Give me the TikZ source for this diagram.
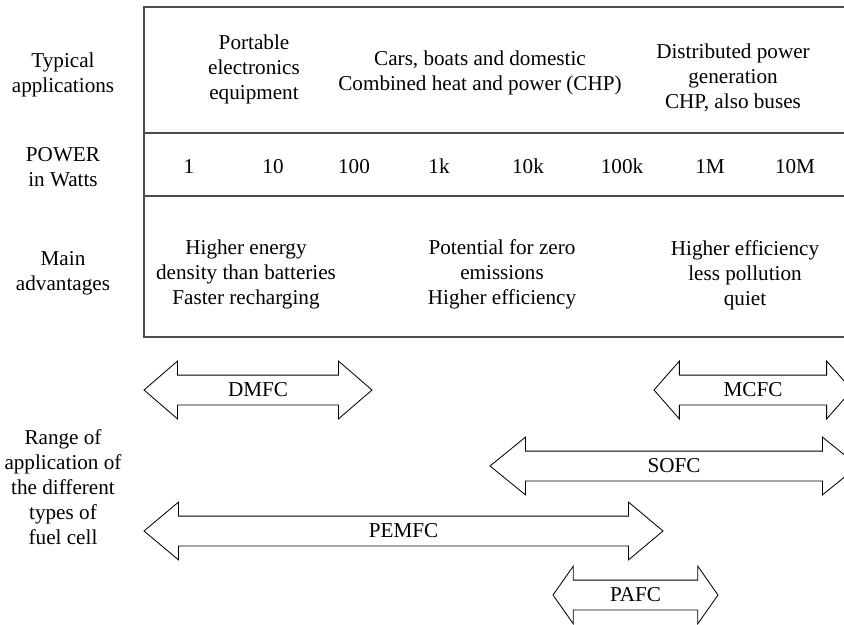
\documentclass[tikz,border=0pt]{standalone}
\usepackage{fontspec}
\setmainfont{Liberation Serif}
\usetikzlibrary{shapes.arrows}
\tikzset{
	txt/.style={align=center,font=\fontsize{12.7}{15}\selectfont,inner sep=0pt},
	rule/.style={gray!60!black,line width=0.8pt},
	fcarrow/.style 2 args={double arrow,draw,line width=0.5pt,inner xsep=0pt,%
		inner ysep=4.6pt,text height=8.2pt,text depth=0pt,%
		font=\fontsize{12.7}{15}\selectfont,minimum width=34.2pt,%
		double arrow head extend=8.4pt,double arrow head indent=0pt,%
		minimum height=#1*0.6pt,double arrow tip angle=#2},
}
\begin{document}
\begin{tikzpicture}[x=0.6pt,y=-0.6pt]
	\useasboundingbox (0,0) rectangle (844,625);
	\draw[rule] (844,7)--(144,7)--(144,337)--(844,337);
	\draw[rule] (144,133)--(844,133) (144,196)--(844,196);
	% row titles
	\node[txt] (tapp) at (63,75) {Typical\\applications};
	\node[txt] (pow) at (63,167.5) {POWER\\in Watts};
	\node[txt] (adv) at (63,273) {Main\\advantages};
	\node[txt] (rng) at (63,487) {Range of\\application of\\the different\\types of\\fuel cell};
	% applications
	\node[txt] (app1) at (254,69.5) {Portable\\electronics\\equipment};
	\node[txt] (app2) at (480,72.5) {Cars, boats and domestic\\Combined heat and power (CHP)};
	\node[txt] (app3) at (733,78) {Distributed power\\generation\\CHP, also buses};
	% power scale
	\foreach \w/\x [count=\i] in {1/189,10/273,100/354,1k/439,10k/528,100k/622,1M/710,10M/795}{
		\node[txt,anchor=base] (p\i) at (\x,173.5) {\w};%W
	}
	% advantages
	\node[txt] (adv1) at (246,274.5) {Higher energy\\density than batteries\\Faster recharging};
	\node[txt] (adv2) at (502,274.5) {Potential for zero\\emissions\\Higher efficiency};
	\node[txt] (adv3) at (745,275) {Higher efficiency\\less pollution\\quiet};
	% fuel cell ranges
	\node[fcarrow={228}{81.6}] (dmfc) at (258,390) {DMFC};
	\node[fcarrow={198}{97.5}] (mcfc) at (753,390) {MCFC};
	\node[fcarrow={368}{78.3}] (sofc) at (674,466) {SOFC};
	\node[fcarrow={519}{79.9}] (pemfc) at (403.5,531) {PEMFC};
	\node[fcarrow={165}{109.8}] (pafc) at (635.5,595) {PAFC};
\end{tikzpicture}
\end{document}
